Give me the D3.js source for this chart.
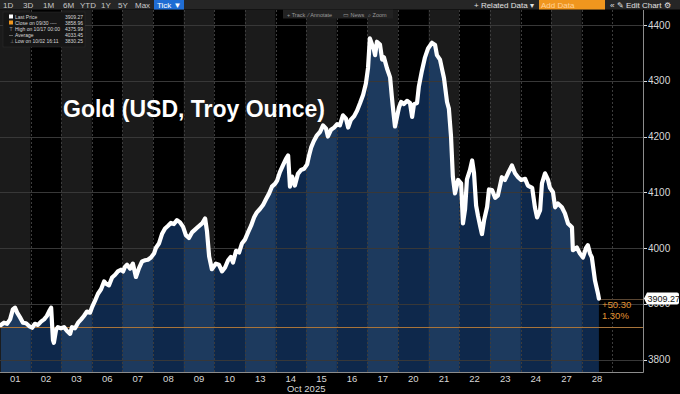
<!DOCTYPE html>
<html>
<head>
<meta charset="utf-8">
<script src="https://cdn.jsdelivr.net/npm/d3@7"></script>
<style>
  html, body { margin: 0; padding: 0; background: #000; }
  svg { display: block; font-family: "Liberation Sans", Arial, sans-serif; }
</style>
</head>
<body>
<svg id="chart" width="680" height="394"></svg>
<script>
// data
const days = ['01', '02', '03', '06', '07', '08', '09', '10', '13', '14', '15',
  '16', '17', '20', '21', '22', '23', '24', '27', '28'];

// session position (fractional trading day) and price of each tick
const tickTime = [
  0.03, 0.13, 0.23, 0.33, 0.42, 0.49, 0.56, 0.65, 0.75, 0.85, 0.95,
  1.05, 1.14, 1.24, 1.34, 1.44, 1.53, 1.60, 1.67, 1.73, 1.76, 1.83, 1.89, 1.99,
  2.09, 2.19, 2.29, 2.35, 2.45, 2.55, 2.65, 2.74, 2.84, 2.94, 3.00,
  3.10, 3.20, 3.30, 3.40, 3.46, 3.56, 3.66, 3.76, 3.85, 3.95, 4.02,
  4.08, 4.15, 4.25, 4.34, 4.44, 4.54, 4.64, 4.74, 4.83, 4.93, 5.03,
  5.09, 5.19, 5.29, 5.39, 5.49, 5.58, 5.68, 5.78, 5.88, 5.98,
  6.07, 6.17, 6.27, 6.37, 6.47, 6.60, 6.70, 6.76, 6.83, 6.92,
  7.05, 7.15, 7.25, 7.35, 7.45, 7.54, 7.61, 7.71, 7.81, 7.90, 8.00,
  8.10, 8.20, 8.30, 8.39, 8.49, 8.59, 8.69, 8.79, 8.88, 8.98, 9.05,
  9.14, 9.24, 9.34, 9.41, 9.47, 9.54, 9.63, 9.73, 9.83, 9.93, 10.03,
  10.09, 10.16, 10.25, 10.35, 10.45, 10.55, 10.65, 10.71, 10.81, 10.91, 11.01,
  11.10, 11.20, 11.30, 11.37, 11.46, 11.56, 11.66, 11.76, 11.86, 11.95, 12.02,
  12.08, 12.15, 12.21, 12.25, 12.31, 12.41, 12.48, 12.54, 12.64, 12.74, 12.80, 12.84, 12.90,
  12.97, 13.03, 13.10, 13.19, 13.29, 13.39, 13.46, 13.52, 13.62, 13.68, 13.78, 13.88, 13.98,
  14.11, 14.21, 14.27, 14.37, 14.44, 14.50, 14.60, 14.66, 14.73, 14.79, 14.86, 14.96, 15.06,
  15.12, 15.19, 15.25, 15.35, 15.42, 15.48, 15.55, 15.61, 15.68, 15.74, 15.81, 15.91, 15.97, 16.07,
  16.17, 16.26, 16.39, 16.49, 16.59, 16.72, 16.82, 16.92, 17.02,
  17.15, 17.24, 17.38, 17.47, 17.54, 17.64, 17.70, 17.80, 17.90, 17.96, 18.06,
  18.13, 18.22, 18.35, 18.45, 18.55, 18.68, 18.71, 18.84, 18.94, 19.04,
  19.14, 19.20, 19.27, 19.33, 19.43, 19.53, 19.56
];
const tickPrice = [
  3862, 3866, 3864, 3872, 3890, 3893, 3884, 3876, 3866, 3865, 3860,
  3857, 3864, 3862, 3868, 3872, 3878, 3886, 3893, 3835, 3830, 3853, 3858, 3856,
  3858, 3851, 3846, 3858, 3856, 3866, 3872, 3878, 3886, 3884, 3893,
  3905, 3918, 3926, 3940, 3936, 3933, 3947, 3952, 3958, 3961, 3958,
  3966, 3970, 3963, 3972, 3948, 3964, 3976, 3978, 3979, 3983, 3990,
  4000, 4008, 4025, 4035, 4040, 4045, 4043, 4050, 4046, 4038,
  4023, 4018, 4028, 4033, 4038, 4044, 4053, 4030, 3985, 3962,
  3972, 3970, 3958, 3965, 3978, 3984, 3974, 3995, 3992, 4008, 4015,
  4028, 4040, 4055, 4064, 4070, 4077, 4088, 4098, 4110, 4115, 4121,
  4136, 4148, 4160, 4166, 4110, 4128, 4112, 4133, 4140, 4142, 4150,
  4165, 4180, 4192, 4202, 4208, 4220, 4214, 4200, 4212, 4216, 4222,
  4220, 4238, 4232, 4216, 4230, 4236, 4246, 4260, 4275, 4295, 4323,
  4376, 4365, 4356, 4346, 4370, 4365, 4338, 4342, 4322, 4306, 4270, 4248, 4218,
  4236, 4252, 4262, 4258, 4264, 4260, 4235, 4258, 4260, 4290, 4318, 4342, 4358,
  4368, 4364, 4346, 4338, 4320, 4305, 4262, 4250, 4200, 4128, 4098, 4122, 4116,
  4044, 4070, 4123, 4140, 4157, 4135, 4076, 4058, 4040, 4025, 4050, 4074, 4105, 4104,
  4090, 4094, 4127, 4122, 4134, 4148, 4134, 4127, 4122,
  4124, 4112, 4108, 4073, 4055, 4068, 4116, 4134, 4122, 4108, 4100,
  4073, 4080, 4073, 4062, 4044, 4037, 3996, 4001, 3990, 3983,
  4000, 4005, 3990, 3983, 3942, 3918, 3909.27
];

const yTicks = [3800, 3900, 4000, 4100, 4200, 4300, 4400];
const lastPrice = 3909.27;
const prevClose = 3858.96;
const changeText = ['+50.30', '1.30%'];

const legendLabels = ['Last Price', 'Close on 09/30 ----', 'High on 10/17 00:00', 'Average', 'Low on 10/02 16:11'];
const legendValues = ['3909.27', '3858.96', '4375.99', '4033.45', '3830.25'];
const rangeButtons = ['1D', '3D', '1M', '6M', 'YTD', '1Y', '5Y', 'Max'];
const chartTools = ['+ Track', '⁄ Annotate', '▭ News', '⌕ Zoom'];

// layout
const svg = d3.select('#chart');
const plotLeft = 0, plotRight = 643, plotTop = 10, plotBottom = 372;

const x = d3.scaleLinear().domain([0, days.length + 1]).range([plotLeft, plotRight]);
const y = d3.scaleLinear().domain([3800, 4400]).range([359.5, 25]);

const pts = tickTime.map((t, i) => ({ t: t, v: tickPrice[i] }));

svg.append('rect').attr('width', 680).attr('height', 394).attr('fill', '#000');

svg.append('defs').append('clipPath').attr('id', 'under')
  .append('path')
  .attr('d', d3.area().x(d => x(d.t)).y0(plotBottom).y1(d => y(d.v))(pts));

// background day bands
svg.append('g')
  .selectAll('rect')
  .data(days)
  .join('rect')
  .attr('x', (d, i) => x(i))
  .attr('y', plotTop)
  .attr('width', x(1) - x(0))
  .attr('height', plotBottom - plotTop)
  .attr('fill', (d, i) => (i % 2 === 0 ? '#1b1b1b' : '#000'));

// navy fill under the price, also banded
svg.append('g')
  .attr('clip-path', 'url(#under)')
  .selectAll('rect')
  .data(days)
  .join('rect')
  .attr('x', (d, i) => x(i))
  .attr('y', plotTop)
  .attr('width', x(1) - x(0) + 0.5)
  .attr('height', plotBottom - plotTop)
  .attr('fill', (d, i) => (i % 2 === 0 ? '#1d3a5e' : '#0e284b'));

// grid
svg.append('g')
  .selectAll('line')
  .data(yTicks)
  .join('line')
  .attr('x1', plotLeft).attr('x2', plotRight)
  .attr('y1', d => Math.round(y(d)) + 0.5).attr('y2', d => Math.round(y(d)) + 0.5)
  .attr('stroke', '#383838').attr('stroke-width', 1);

svg.append('g')
  .selectAll('line')
  .data(d3.range(1, days.length + 1))
  .join('line')
  .attr('x1', d => Math.round(x(d)) + 0.5).attr('x2', d => Math.round(x(d)) + 0.5)
  .attr('y1', plotTop).attr('y2', plotBottom)
  .attr('stroke', '#3c3c3c').attr('stroke-dasharray', '2,2');

// previous close line
svg.append('line')
  .attr('x1', plotLeft).attr('x2', plotRight)
  .attr('y1', Math.round(y(prevClose)) + 0.5).attr('y2', Math.round(y(prevClose)) + 0.5)
  .attr('stroke', '#a8743a').attr('stroke-width', 1);

// last price guide
const last = pts[pts.length - 1];
svg.append('line')
  .attr('x1', x(last.t)).attr('x2', plotRight)
  .attr('y1', Math.round(y(lastPrice)) + 0.5).attr('y2', Math.round(y(lastPrice)) + 0.5)
  .attr('stroke', '#5a4632').attr('stroke-width', 1);

// price line
svg.append('path')
  .datum(pts)
  .attr('fill', 'none')
  .attr('stroke', '#fff')
  .attr('stroke-width', 4.2)
  .attr('stroke-linejoin', 'round')
  .attr('stroke-linecap', 'round')
  .attr('d', d3.line().x(d => x(d.t)).y(d => y(d.v)));

// change text
svg.append('g')
  .selectAll('text')
  .data(changeText)
  .join('text')
  .attr('x', x(last.t) + 3)
  .attr('y', (d, i) => y(lastPrice) + 9 + i * 11)
  .attr('fill', '#e39432')
  .style('font-size', '9.5px')
  .text(d => d);

// axes
svg.append('line')
  .attr('x1', plotRight + 0.5).attr('x2', plotRight + 0.5)
  .attr('y1', plotTop).attr('y2', plotBottom + 0.5)
  .attr('stroke', '#8c8c8c');
svg.append('line')
  .attr('x1', plotLeft).attr('x2', plotRight + 0.5)
  .attr('y1', plotBottom + 0.5).attr('y2', plotBottom + 0.5)
  .attr('stroke', '#8c8c8c');

const yAxis = svg.append('g');
yAxis.selectAll('line')
  .data(yTicks)
  .join('line')
  .attr('x1', plotRight + 1).attr('x2', plotRight + 4)
  .attr('y1', d => Math.round(y(d)) + 0.5).attr('y2', d => Math.round(y(d)) + 0.5)
  .attr('stroke', '#ddd');
// the 3900 label sits partly under the last price badge, as in the terminal
yAxis.selectAll('text')
  .data(yTicks)
  .join('text')
  .attr('x', plotRight + 5)
  .attr('y', d => y(d) + 3.5)
  .attr('fill', '#d8d8d8')
  .style('font-size', '10px')
  .text(d => d);

// last price badge
const badge = svg.append('g').attr('transform', `translate(${plotRight + 1},${y(lastPrice)})`);
badge.append('path')
  .attr('d', 'M0,0 L3,-6 H33 Q35,-6 35,-4 V4 Q35,6 33,6 H3 Z')
  .attr('fill', '#fff');
badge.append('text')
  .attr('x', 3.5).attr('y', 3.3)
  .attr('fill', '#111')
  .style('font-size', '9px')
  .text(lastPrice.toFixed(2));

svg.append('g')
  .selectAll('text')
  .data(days)
  .join('text')
  .attr('x', (d, i) => x(i + 0.5))
  .attr('y', plotBottom + 10)
  .attr('text-anchor', 'middle')
  .attr('fill', '#d8d8d8')
  .style('font-size', '9.5px')
  .text(d => d);

svg.append('text')
  .attr('x', x(10))
  .attr('y', 392)
  .attr('text-anchor', 'middle')
  .attr('fill', '#d8d8d8')
  .style('font-size', '9.5px')
  .text('Oct 2025');

// title
svg.append('text')
  .attr('x', 63).attr('y', 117)
  .attr('fill', '#fff')
  .style('font-size', '23px')
  .style('font-weight', 'bold')
  .text('Gold (USD, Troy Ounce)');

// top toolbar
svg.append('rect').attr('width', 680).attr('height', 9.5).attr('fill', '#262626');
const rangeX = [3, 23, 43, 63, 80, 101, 118, 135];
svg.append('g')
  .selectAll('text')
  .data(rangeButtons)
  .join('text')
  .attr('x', (d, i) => rangeX[i])
  .attr('y', 7.5)
  .attr('fill', '#c8c8c8')
  .style('font-size', '8px')
  .text(d => d);
svg.append('rect').attr('x', 154).attr('y', 0).attr('width', 30).attr('height', 9.5).attr('fill', '#1f6dd4');
svg.append('text').attr('x', 157).attr('y', 7.5).attr('fill', '#fff').style('font-size', '8px').text('Tick ▼');

svg.append('text').attr('x', 474).attr('y', 7.5).attr('fill', '#e0e0e0').style('font-size', '8px').text('+ Related Data ▾');
svg.append('rect').attr('x', 539).attr('y', 0).attr('width', 66).attr('height', 9.5).attr('fill', '#f0961e');
svg.append('text').attr('x', 541).attr('y', 7.5).attr('fill', '#ffd29a').style('font-size', '8px').text('Add Data');
svg.append('text').attr('x', 610).attr('y', 7.5).attr('fill', '#e0e0e0').style('font-size', '8px').text('«  ✎ Edit Chart  ⚙');

// chart tools strip
svg.append('rect').attr('x', 283).attr('y', 9.5).attr('width', 110).attr('height', 9).attr('fill', '#222');
const toolX = [287, 308, 343, 368];
svg.append('g')
  .selectAll('text')
  .data(chartTools)
  .join('text')
  .attr('x', (d, i) => toolX[i])
  .attr('y', 16.5)
  .attr('fill', '#9a9a9a')
  .style('font-size', '5.5px')
  .text(d => d);

// legend
const legend = svg.append('g');
legend.append('rect')
  .attr('x', 3).attr('y', 12).attr('width', 82).attr('height', 35)
  .attr('fill', '#161616').attr('stroke', '#2e2e2e').attr('stroke-width', 0.5);
legend.selectAll('text.lab')
  .data(legendLabels)
  .join('text')
  .attr('class', 'lab')
  .attr('x', 15)
  .attr('y', (d, i) => 19 + i * 6)
  .attr('fill', '#d8d8d8')
  .style('font-size', '5px')
  .text(d => d);
legend.selectAll('text.val')
  .data(legendValues)
  .join('text')
  .attr('class', 'val')
  .attr('x', 83)
  .attr('y', (d, i) => 19 + i * 6)
  .attr('text-anchor', 'end')
  .attr('fill', '#d8d8d8')
  .style('font-size', '5px')
  .text(d => d);
legend.append('rect').attr('x', 9).attr('y', 14.5).attr('width', 4).attr('height', 4).attr('fill', '#fff');
legend.append('rect').attr('x', 9).attr('y', 20.5).attr('width', 4).attr('height', 4).attr('fill', '#f0961e');
legend.append('text').attr('x', 9.5).attr('y', 31).attr('fill', '#999').style('font-size', '5px').text('T');
legend.append('line').attr('x1', 9).attr('x2', 13).attr('y1', 35.5).attr('y2', 35.5).attr('stroke', '#999').attr('stroke-width', 0.6);
legend.append('text').attr('x', 9.5).attr('y', 43).attr('fill', '#999').style('font-size', '5px').text('⊥');
</script>
</body>
</html>
